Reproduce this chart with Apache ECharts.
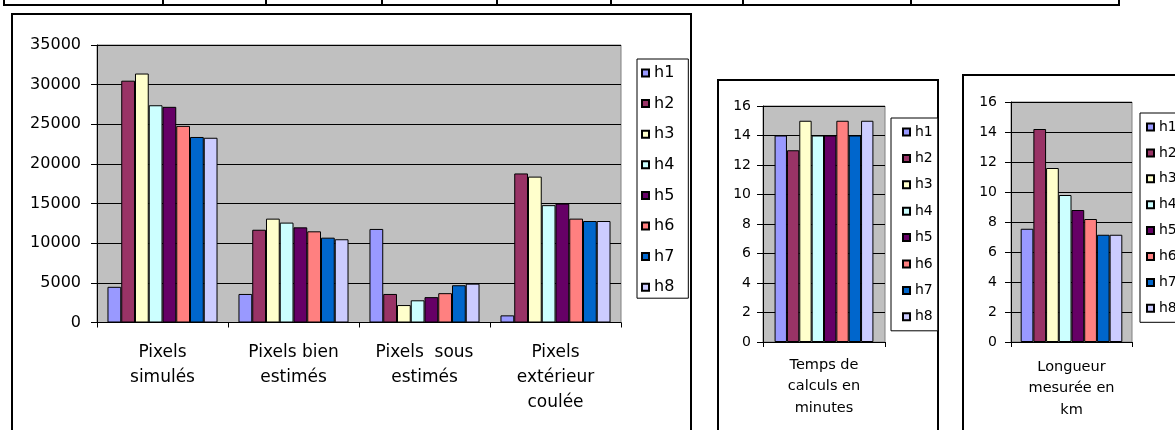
<!DOCTYPE html>
<html>
<head>
<meta charset="utf-8">
<script src="https://cdn.jsdelivr.net/npm/echarts@6/dist/echarts.min.js"></script>
<style>
  html, body { margin: 0; padding: 0; background: #ffffff; }
  #chart { width: 1175px; height: 430px; }
</style>
</head>
<body>
<div id="chart"></div>
<script>
// Pixel counts per classification, one array per run h1..h8
const pixelCategories = ['Pixels\nsimulés', 'Pixels bien\nestimés', 'Pixels  sous\nestimés', 'Pixels\nextérieur\ncoulée'];
const runNames = ['h1', 'h2', 'h3', 'h4', 'h5', 'h6', 'h7', 'h8'];
const pixH1 = [4500, 3600, 11800, 900];
const pixH2 = [30500, 11700, 3600, 18800];
const pixH3 = [31400, 13100, 2200, 18400];
const pixH4 = [27400, 12600, 2800, 14800];
const pixH5 = [27200, 12000, 3200, 15000];
const pixH6 = [24800, 11500, 3700, 13100];
const pixH7 = [23400, 10700, 4700, 12800];
const pixH8 = [23300, 10500, 4900, 12800];

// Computation time (minutes) per run
const timeCategory = ['Temps de\ncalculs en\nminutes'];
const timeMinutes = [14, 13, 15, 14, 14, 15, 14, 15];

// Measured length (km) per run
const lengthCategory = ['Longueur\nmesurée en\nkm'];
const lengthKm = [7.55, 14.2, 11.6, 9.8, 8.8, 8.2, 7.15, 7.15];

// Value axis ranges
const pixelAxis = { min: 0, max: 35000, interval: 5000 };
const smallAxis = { min: 0, max: 16, interval: 2 };

const pixelRows = [pixH1, pixH2, pixH3, pixH4, pixH5, pixH6, pixH7, pixH8];
const runColors = ['#9999FF', '#993366', '#FFFFCC', '#CCFFFF', '#660066', '#FF8080', '#0066CC', '#CCCCFF'];
const FONT = 'DejaVu Sans';

function makeGrid(left, top, width, height) {
  return { left, top, width, height, show: true, backgroundColor: '#c0c0c0',
           borderColor: '#808080', borderWidth: 1, containLabel: false };
}

function makeXAxis(idx, data, fontSize, lineHeight, margin) {
  return {
    type: 'category', gridIndex: idx, data,
    axisLine: { show: true, lineStyle: { color: '#000', width: 1 } },
    axisTick: { show: true, length: 5, lineStyle: { color: '#000' } },
    axisLabel: { interval: 0, color: '#000', fontFamily: FONT, fontSize, lineHeight, margin, align: 'center' },
    splitLine: { show: false }
  };
}

function makeYAxis(idx, range, fontSize, margin) {
  return {
    type: 'value', gridIndex: idx, min: range.min, max: range.max, interval: range.interval,
    axisLine: { show: true, lineStyle: { color: '#000', width: 1 } },
    axisTick: { show: true, length: 6, lineStyle: { color: '#000' } },
    axisLabel: { color: '#000', fontFamily: FONT, fontSize, margin, formatter: v => String(v) },
    splitLine: { show: true, lineStyle: { color: '#000', width: 1 } }
  };
}

function makeLegend(left, top, fontSize, gap, padding) {
  return {
    data: runNames, orient: 'vertical', left, top, icon: 'rect',
    itemWidth: 7, itemHeight: 7, itemGap: gap, selectedMode: false,
    borderColor: '#000', borderWidth: 1, padding, backgroundColor: '#fff',
    textStyle: { color: '#000', fontFamily: FONT, fontSize, lineHeight: fontSize }
  };
}

const series = [];
runNames.forEach((name, k) => {
  const style = { color: runColors[k], borderColor: '#000', borderWidth: 1 };
  series.push({ type: 'bar', name, xAxisIndex: 0, yAxisIndex: 0, data: pixelRows[k],
    barGap: '0%', barCategoryGap: '16%', itemStyle: style, emphasis: { disabled: true } });
  series.push({ type: 'bar', name, xAxisIndex: 1, yAxisIndex: 1, data: [timeMinutes[k]],
    barGap: '0%', barCategoryGap: '19%', itemStyle: style, emphasis: { disabled: true } });
  series.push({ type: 'bar', name, xAxisIndex: 2, yAxisIndex: 2, data: [lengthKm[k]],
    barGap: '0%', barCategoryGap: '16%', itemStyle: style, emphasis: { disabled: true } });
});

// Frames round each chart and the table rule along the top edge
const tableCols = [4, 163, 266, 382, 497, 611, 743, 911, 1119];
const graphic = [
  { type: 'rect', shape: { x: 12, y: 14, width: 679, height: 500 }, style: { fill: 'none', stroke: '#000', lineWidth: 2 } },
  { type: 'rect', shape: { x: 718, y: 80, width: 220, height: 400 }, style: { fill: 'none', stroke: '#000', lineWidth: 2 } },
  { type: 'rect', shape: { x: 963, y: 75, width: 400, height: 400 }, style: { fill: 'none', stroke: '#000', lineWidth: 2 } },
  { type: 'line', shape: { x1: 3, y1: 5, x2: 1120, y2: 5 }, style: { stroke: '#000', lineWidth: 2 } }
];
tableCols.forEach(x => graphic.push({ type: 'line', shape: { x1: x, y1: 0, x2: x, y2: 5 }, style: { stroke: '#000', lineWidth: 2 } }));

const chart = echarts.init(document.getElementById('chart'), null, { renderer: 'canvas' });
chart.setOption({
  animation: false,
  backgroundColor: '#ffffff',
  grid: [
    makeGrid(97, 45, 524, 277.5),
    makeGrid(763, 106, 122, 236),
    makeGrid(1011, 102, 121, 240)
  ],
  xAxis: [
    makeXAxis(0, pixelCategories, 17, 25, 18),
    makeXAxis(1, timeCategory, 14.5, 21.7, 12),
    makeXAxis(2, lengthCategory, 14.5, 21.7, 14)
  ],
  yAxis: [
    makeYAxis(0, pixelAxis, 16, 16),
    makeYAxis(1, smallAxis, 14, 12),
    makeYAxis(2, smallAxis, 14, 14)
  ],
  legend: [
    makeLegend(637, 59, 16, 14.6, [6, 14, 3, 4]),
    makeLegend(891, 118, 14, 12.4, [7, 5, 7, 11]),
    makeLegend(1140, 113, 14, 11.9, [7, 5, 7, 6])
  ],
  series,
  graphic
});
</script>
</body>
</html>
